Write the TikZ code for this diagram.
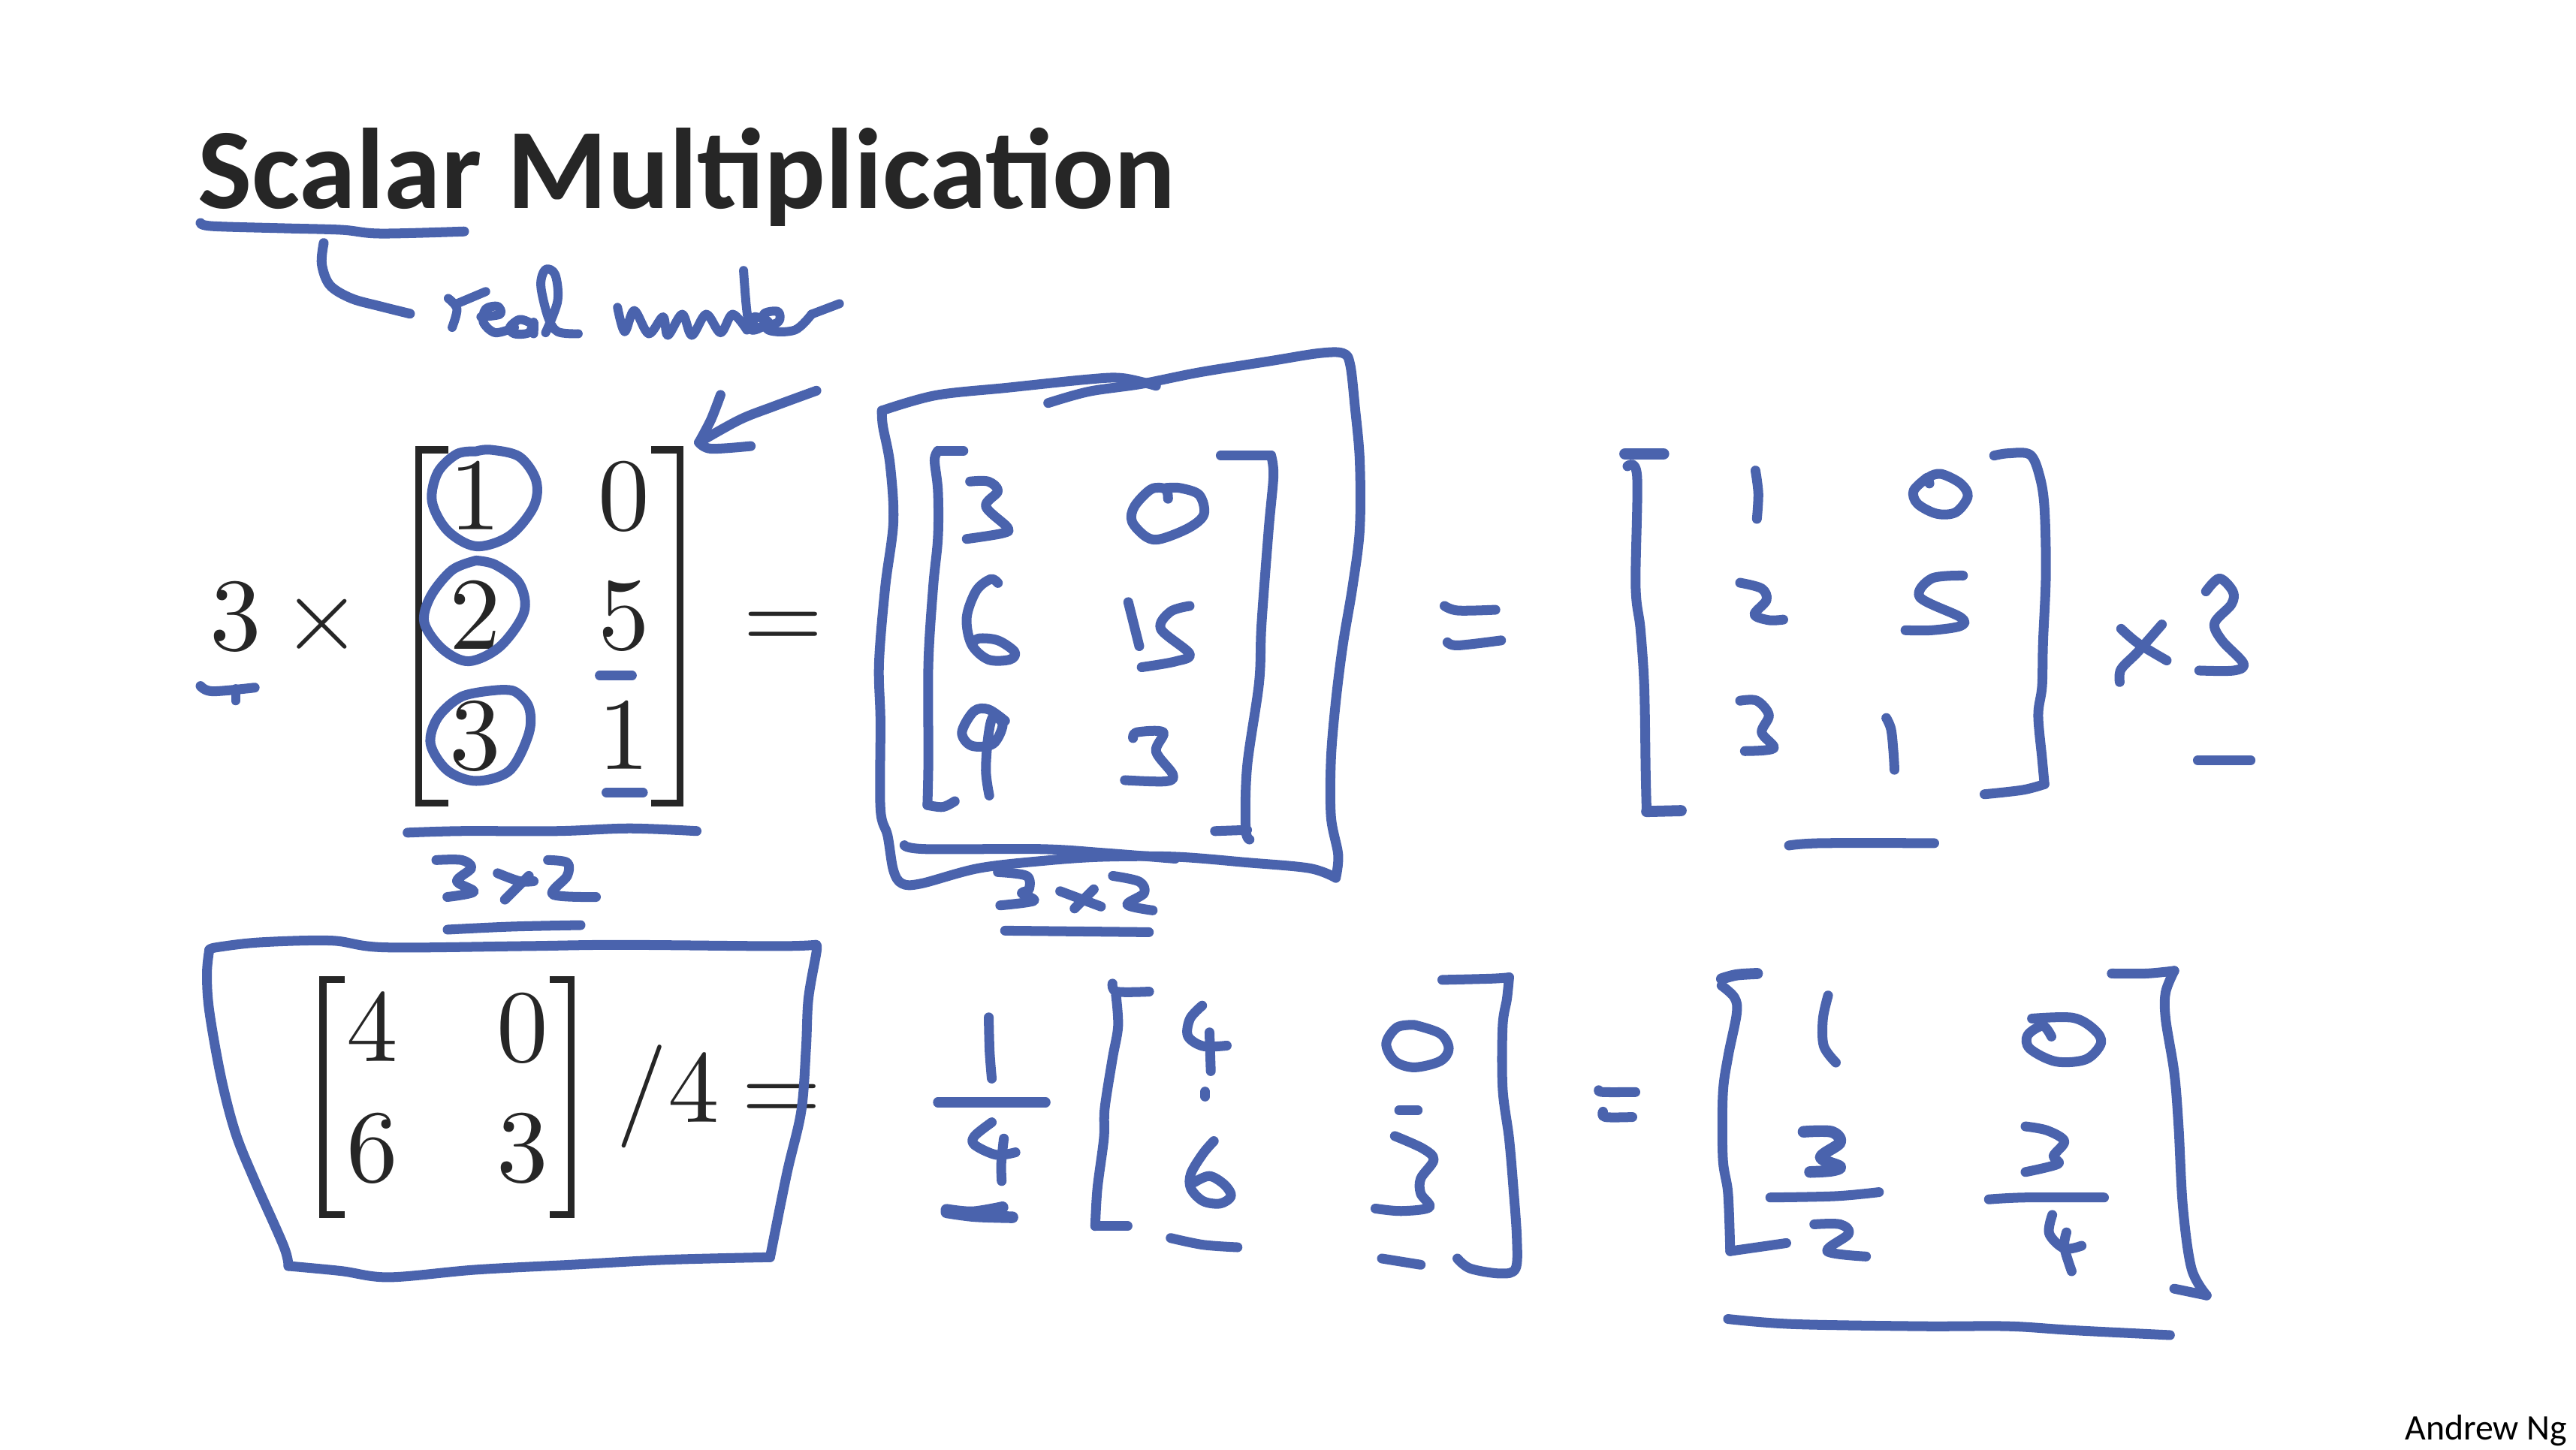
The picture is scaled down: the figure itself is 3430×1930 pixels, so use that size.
\documentclass[tikz,border=0pt]{standalone}
\usepackage{fontspec}
\newfontfamily\calib{Carlito}
\newfontfamily\numf[Extension=.otf]{lmroman10-regular}
\definecolor{ink}{HTML}{4A63AD}
\definecolor{blk}{HTML}{262626}
\tikzset{
  pen/.style={draw=ink,line width=3.7pt,line cap=round,line join=round},
  thinpen/.style={pen,line width=3.4pt},
  brk/.style={draw=blk,line width=2.6pt,line cap=butt,line join=miter},
  num/.style={inner sep=0pt,anchor=base,text=blk,font=\numf\fontsize{39}{39}\selectfont},
  zone/.style n args={4}{shift={(#1,#2)},x=#3,y=#4},
  zA/.style={zone={200}{120}{0.006378cm}{-0.007015cm}},
  zB/.style={zone={1150}{450}{0.006378cm}{-0.005102cm}},
  zC/.style={zone={2100}{550}{0.006378cm}{-0.003827cm}},
  zD/.style={zone={250}{1230}{0.006378cm}{-0.003333cm}},
  zE/.style={zone={1200}{1250}{0.005740cm}{-0.003333cm}},
  zF/.style={zone={2100}{1250}{0.005740cm}{-0.003571cm}},
}
\newcommand\ink[2][]{\draw[pen,#1] plot[smooth,tension=.55] coordinates {#2};}
\begin{document}
\begin{tikzpicture}[x=0.01cm,y=-0.01cm]
\useasboundingbox[fill=white] (0,0) rectangle (3430,1930);
\node[inner sep=0pt,anchor=base west,text=blk,font=\calib\bfseries\fontsize{43.4}{44}\selectfont] (title) at (263,277) {Scalar Multiplication};
\node[inner sep=0pt,anchor=base east,text=black,font=\calib\fontsize{13.6}{14}\selectfont] (author) at (3419,1917) {Andrew Ng};

\begin{scope}[zA]
\node[num] (s3) at (178,1062) {3};
\node[num] (times) at (358,1062) {×};
\node[num] (a11) at (678,833) {1};
\node[num] (a12) at (988,833) {0};
\node[num] (a21) at (678,1060) {2};
\node[num] (a22) at (988,1060) {5};
\node[num] (a31) at (678,1288) {3};
\node[num] (a32) at (988,1288) {1};
\node[num] (eqA) at (1320,1062) {=};
\draw[brk] (622,682)--(560,682)--(560,1352)--(622,1352);
\draw[brk] (1045,682)--(1105,682)--(1105,1352)--(1045,1352);
\ink{(105,252)(130,258)(280,262)(400,265)(480,272)(655,268)}
\ink{(362,290)(358,330)(375,370)(420,395)(480,410)(542,424)}
\ink[thinpen]{(622,395)(640,415)(630,450)}
\ink[thinpen]{(640,405)(700,382)}
\ink[thinpen]{(690,430)(730,425)(725,410)(700,415)(695,440)(720,460)(760,450)}
\ink[thinpen]{(790,440)(770,435)(750,450)(760,462)(790,460)(800,440)(800,462)}
\ink[thinpen]{(825,460)(850,400)(845,350)(825,340)(815,370)(830,430)(850,458)(893,462)}
\ink[thinpen]{(975,412)(990,458)(1010,418)(1040,462)(1070,430)(1080,465)(1110,425)(1130,465)(1160,425)(1190,460)(1215,425)(1245,455)}
\ink[thinpen]{(1238,342)(1245,420)(1255,455)(1290,440)(1260,430)(1265,450)(1310,440)(1310,420)(1280,425)(1290,455)(1345,455)(1380,425)}
\ink[thinpen]{(1380,425)(1438,405)}
\ink{(1390,570)(1300,600)(1230,625)(1145,668)}
\ink{(1190,578)(1170,625)(1145,668)}
\ink{(1145,668)(1170,680)(1253,675)}
\ink{(680,685)(640,690)(600,725)(588,780)(620,835)(680,865)(750,845)(800,790)(805,740)(770,695)(710,682)(680,685)}
\ink{(680,892)(630,910)(585,960)(572,1010)(610,1060)(665,1083)(730,1055)(780,990)(770,935)(720,900)(680,892)}
\ink{(720,1138)(650,1150)(600,1190)(585,1240)(620,1290)(680,1310)(750,1290)(790,1220)(790,1170)(760,1140)(720,1138)}
\ink{(105,1130)(130,1140)(218,1133)}
\ink[thinpen]{(178,1135)(178,1158)}
\ink{(938,1110)(1005,1110)}
\ink{(952,1332)(1028,1332)}
\ink{(537,1408)(650,1405)(850,1405)(1000,1400)(1140,1405)}
\ink{(597,1460)(650,1460)(670,1475)(640,1500)(675,1520)(620,1530)}
\ink{(725,1485)(770,1500)(800,1500)}
\ink{(740,1535)(790,1490)}
\ink{(830,1460)(870,1465)(870,1490)(840,1525)(930,1530)}
\end{scope}
\ink{(596,1238)(680,1234)(773,1232)}

\begin{scope}[zB]
\ink{(385,170)(470,140)(580,120)(700,90)(850,60)(950,40)(1000,40)(1015,70)(1025,180)(1035,320)(1035,500)(1020,650)(1000,800)(985,950)(975,1100)(975,1250)(990,1350)(985,1410)}
\ink{(985,1410)(930,1385)(800,1370)(650,1355)(500,1355)(380,1365)(240,1385)(120,1425)(80,1425)(62,1390)(50,1300)(35,1230)(35,1000)(32,850)(45,650)(62,480)(55,330)(40,230)(38,190)}
\ink{(38,190)(150,150)(300,130)(470,108)(540,105)(610,125)}
\ink{(85,1325)(130,1335)(370,1335)(500,1345)(650,1360)}
\ink{(208,295)(155,295)}
\ink{(155,295)(148,320)(155,400)(155,520)(145,650)(135,850)(135,1100)(133,1220)}
\ink{(133,1220)(165,1225)(190,1210)}
\ink{(745,307)(850,307)}
\ink{(850,307)(855,360)(845,500)(830,750)(825,900)(800,1120)(797,1280)(805,1310)}
\ink{(733,1288)(800,1285)}
\ink{(222,375)(260,375)(280,400)(255,440)(300,495)(290,510)(215,525)}
\ink{(635,420)(630,395)(600,395)(565,440)(560,480)(590,520)(620,525)(680,495)(710,460)(700,410)(660,392)(630,392)}
\ink{(280,640)(265,630)(235,660)(215,730)(225,800)(260,840)(305,840)(315,820)(280,790)(240,785)(225,800)}
\ink{(552,690)(575,805)}
\ink{(680,700)(640,715)(620,760)(680,825)(650,845)(580,860)}
\ink{(295,1000)(260,970)(230,975)(205,1030)(225,1065)(270,1060)(290,1010)(270,990)(260,1040)(255,1130)(262,1195)}
\ink{(562,1045)(570,1030)(625,1030)(610,1080)(645,1140)(630,1158)(545,1155)}
\ink{(1212,700)(1240,712)(1318,710)}
\ink{(1218,795)(1240,803)(1330,790)}
\ink{(280,1395)(340,1405)(345,1440)(330,1450)(355,1470)(285,1482)}
\ink{(410,1445)(495,1485)}
\ink{(440,1490)(480,1440)}
\ink{(520,1405)(575,1420)(585,1450)(550,1480)(603,1495)}
\ink{(295,1548)(595,1552)}
\end{scope}

\begin{scope}[zC]
\ink[line width=4.4pt]{(100,142)(180,142)}
\ink{(105,185)(125,220)(122,600)(132,750)(140,950)(143,1250)(145,1385)}
\ink[line width=4.2pt]{(145,1385)(217,1382)}
\ink{(870,148)(900,140)(945,145)(965,220)(975,330)(978,560)(972,800)(970,950)(962,1050)(970,1200)(975,1290)}
\ink{(975,1290)(930,1310)(850,1325)}
\ink{(372,200)(378,280)(375,368)}
\ink{(735,245)(735,222)(760,212)(800,245)(815,290)(790,345)(750,350)(710,315)(702,270)(730,225)}
\ink{(340,590)(385,610)(395,650)(370,700)(400,720)(430,718)}
\ink{(805,565)(740,575)(715,640)(800,710)(800,740)(740,755)(685,755)}
\ink{(340,1000)(375,1000)(400,1050)(385,1110)(410,1165)(350,1175)}
\ink{(645,1060)(655,1100)(660,1180)(662,1240)}
\ink{(1135,750)(1170,800)(1230,860)}
\ink{(1220,735)(1170,830)(1135,890)(1132,935)}
\ink{(1312,620)(1340,575)(1368,620)(1365,665)(1330,730)(1345,790)(1390,870)(1370,895)(1298,895)}
\ink{(1295,1207)(1405,1207)}
\ink{(442,1503)(510,1495)(745,1495)}
\end{scope}

\begin{scope}[zD]
\node[num] (b11) at (385,550) {4};
\node[num] (b12) at (698,552) {0};
\node[num] (b21) at (385,1032) {6};
\node[num] (b22) at (698,1032) {3};
\node[num] (div) at (1002,795) {/4};
\node[num] (eqB) at (1240,795) {=};
\draw[brk] (328,225)--(282,225)--(282,1165)--(328,1165);
\draw[brk] (755,225)--(800,225)--(800,1165)--(755,1165);
\ink{(45,105)(60,95)(150,75)(300,68)(410,95)(700,90)(900,85)(1225,90)(1310,85)}
\ink{(1310,85)(1312,110)(1295,300)(1290,500)(1280,750)(1250,1000)(1215,1335)}
\ink{(1215,1335)(1000,1345)(800,1365)(600,1385)(420,1415)(320,1390)(210,1370)}
\ink{(210,1370)(200,1290)(140,1030)(100,840)(70,620)(45,350)(40,200)(45,105)}
\end{scope}

\begin{scope}[zE]
\ink{(203,315)(205,450)(210,560)}
\ink{(85,655)(335,655)}
\ink{(210,735)(170,790)(170,825)(220,865)(265,855)}
\ink{(238,800)(232,900)(233,970)}
\ink[line width=4.4pt]{(105,1085)(165,1095)(235,1075)}
\ink[line width=4.4pt]{(105,1095)(170,1110)(258,1115)}
\ink{(490,180)(500,212)(575,212)}
\ink{(498,225)(503,350)(490,480)(472,680)(470,800)(455,1000)(450,1150)}
\ink{(450,1150)(525,1150)}
\ink{(1255,165)(1370,160)(1410,155)}
\ink{(1410,155)(1405,240)(1395,350)(1395,600)(1410,800)(1420,1000)(1428,1200)(1425,1320)(1390,1340)(1320,1320)(1290,1280)}
\ink{(698,268)(670,320)(665,390)(700,430)(755,428)}
\ink{(715,375)(718,530)}
\ink{(705,612)(705,632)}
\ink{(1190,345)(1150,355)(1125,420)(1145,490)(1190,515)(1250,490)(1270,440)(1250,380)(1190,345)}
\ink{(1155,687)(1198,687)}
\ink{(725,810)(700,860)(672,940)(672,1000)(700,1050)(740,1060)(765,1030)(750,985)(715,950)(680,975)}
\ink{(1145,790)(1210,840)(1235,885)(1205,960)(1205,1020)(1225,1075)(1160,1090)(1100,1080)}
\ink{(625,1198)(700,1225)(780,1235)}
\ink{(1115,1280)(1205,1305)}
\end{scope}

\begin{scope}[zF]
\ink{(50,565)(60,572)(135,572)}
\ink{(60,645)(65,665)(128,665)}
\ink[line width=4.2pt]{(418,130)(370,135)(335,150)}
\ink{(335,175)(365,220)(370,280)(350,440)(338,580)(338,820)(350,950)(355,1165)}
\ink{(355,1165)(420,1150)(485,1135)}
\ink{(1240,130)(1320,130)(1385,120)}
\ink{(1385,120)(1365,200)(1365,300)(1385,500)(1395,700)(1405,1000)(1425,1230)(1460,1330)}
\ink{(1385,1305)(1460,1330)}
\ink{(582,212)(570,300)(572,400)(600,462)}
\ink{(1055,298)(1150,295)(1200,340)(1215,390)(1180,450)(1110,458)(1050,410)(1045,360)(1080,325)(1100,365)}
\ink[line width=4.4pt]{(525,720)(590,720)(610,760)(565,815)(610,850)(590,865)(540,870)}
\ink{(448,965)(600,960)(700,945)}
\ink{(1040,700)(1090,715)(1130,755)(1105,810)(1115,840)(1040,870)}
\ink{(955,972)(1040,965)(1222,965)}
\ink{(550,1065)(610,1065)(630,1100)(580,1165)(670,1185)}
\ink{(1102,1030)(1095,1100)(1130,1155)(1170,1145)}
\ink{(1135,1095)(1130,1150)(1147,1240)}
\ink{(350,1418)(500,1437)(800,1445)(1000,1445)(1150,1460)(1375,1478)}
\end{scope}
\end{tikzpicture}
\end{document}
